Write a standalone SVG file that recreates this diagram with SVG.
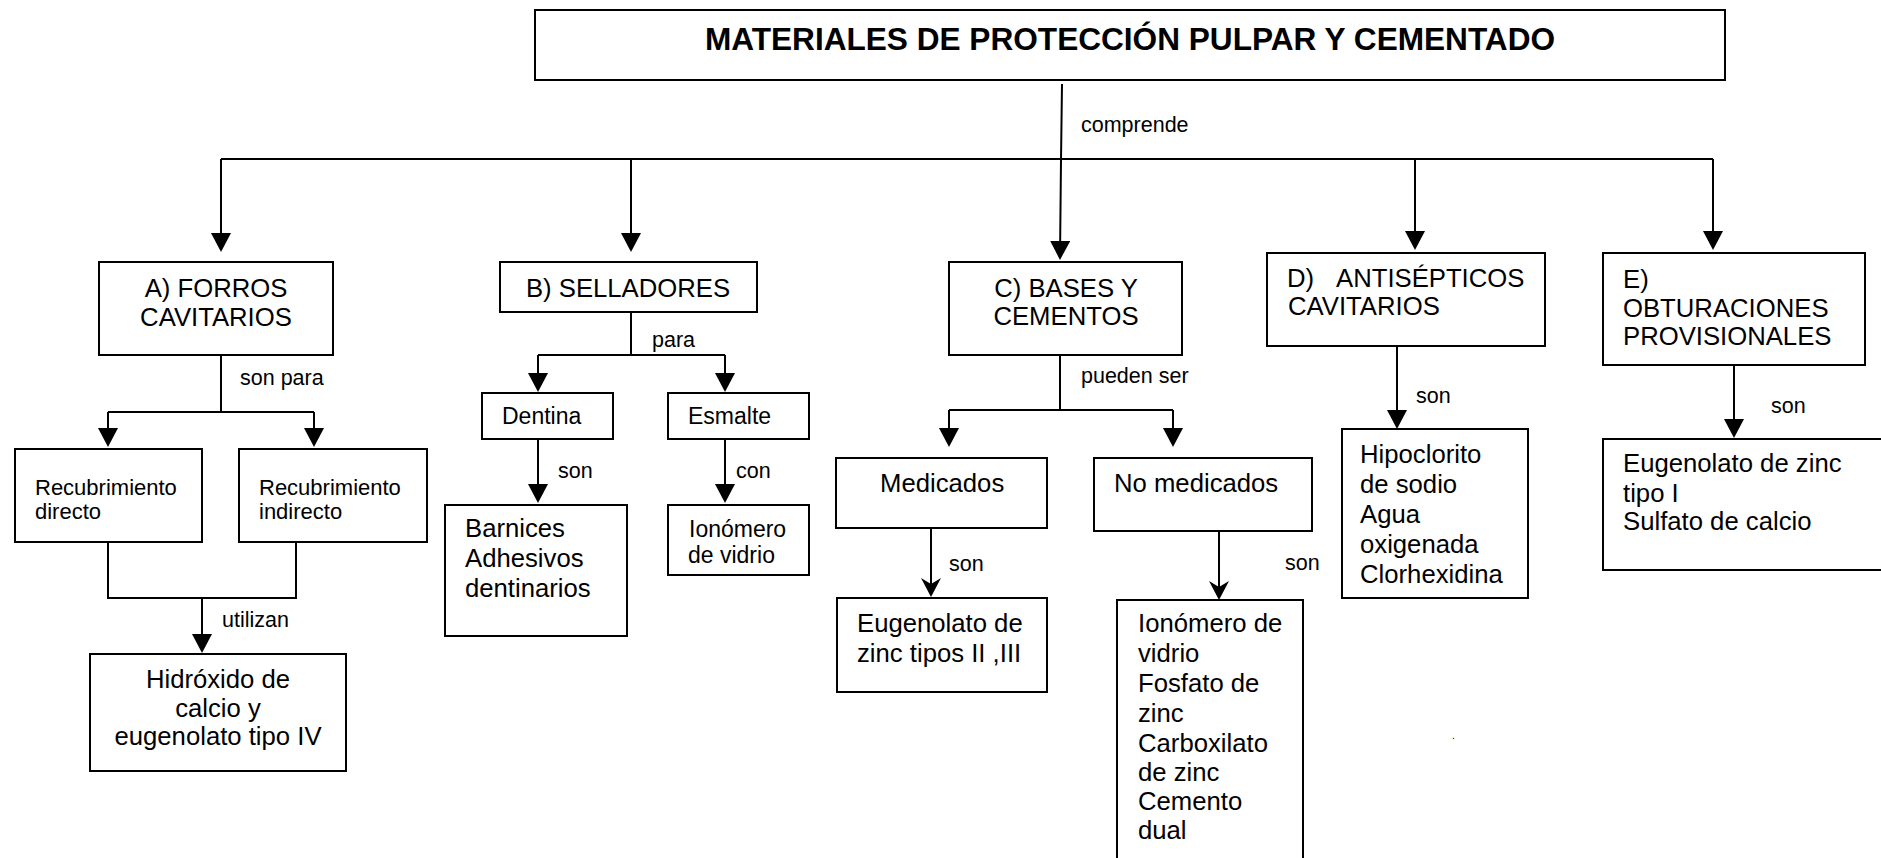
<svg xmlns="http://www.w3.org/2000/svg" width="1881" height="858" viewBox="0 0 1881 858">
<style>
.box{fill:#fff;stroke:#000;stroke-width:2}
.ln{fill:none;stroke:#000;stroke-width:2}
text{font-family:"Liberation Sans",Arial,sans-serif;fill:#000}
.t{font-size:25.7px}
.m{font-size:23px}
.r{font-size:22px}
.lb{font-size:21.5px}
.ti{font-size:31.6px;font-weight:bold}
.c{text-anchor:middle}
</style>
<defs>
<marker id="arr" viewBox="0 0 19 20" refX="17" refY="10" markerWidth="19" markerHeight="20" markerUnits="userSpaceOnUse" orient="auto">
<path d="M0,0 L19,10 L0,20 z" fill="#000"/>
</marker>
<marker id="arrS" viewBox="0 0 19 20" refX="17" refY="10" markerWidth="19" markerHeight="20" markerUnits="userSpaceOnUse" orient="auto">
<path d="M0,0 L19,10 L0,20 L6,10 z" fill="#000"/>
</marker>
</defs>
<rect width="1881" height="858" fill="#fff"/>
<g id="connectors">
<path class="ln" d="M1062,84 L1061,160 L1060,258" marker-end="url(#arr)"/>
<path class="ln" d="M221,159 H1713"/>
<path class="ln" d="M221,159 V250" marker-end="url(#arr)"/>
<path class="ln" d="M631,159 V250" marker-end="url(#arr)"/>
<path class="ln" d="M1415,159 V248" marker-end="url(#arr)"/>
<path class="ln" d="M1713,159 V248" marker-end="url(#arr)"/>
<path class="ln" d="M221,355 V412"/>
<path class="ln" d="M108,412 H314"/>
<path class="ln" d="M108,412 V445" marker-end="url(#arr)"/>
<path class="ln" d="M314,412 V445" marker-end="url(#arr)"/>
<path class="ln" d="M631,312 V355"/>
<path class="ln" d="M538,355 H725"/>
<path class="ln" d="M538,355 V390" marker-end="url(#arr)"/>
<path class="ln" d="M725,355 V390" marker-end="url(#arr)"/>
<path class="ln" d="M538,439 V501" marker-end="url(#arr)"/>
<path class="ln" d="M725,439 V501" marker-end="url(#arr)"/>
<path class="ln" d="M108,542 V598 H296 V542"/>
<path class="ln" d="M202,598 V651" marker-end="url(#arr)"/>
<path class="ln" d="M1060,355 V410"/>
<path class="ln" d="M949,410 H1173"/>
<path class="ln" d="M949,410 V445" marker-end="url(#arr)"/>
<path class="ln" d="M1173,410 V445" marker-end="url(#arr)"/>
<path class="ln" d="M931,528 V595" marker-end="url(#arrS)"/>
<path class="ln" d="M1219,531 V598" marker-end="url(#arrS)"/>
<path class="ln" d="M1397,346 V427" marker-end="url(#arr)"/>
<path class="ln" d="M1734,365 V436" marker-end="url(#arr)"/>
<text class="lb" x="1081" y="132">comprende</text>
<text class="lb" x="240" y="385">son para</text>
<text class="lb" x="652" y="347">para</text>
<text class="lb" x="1081" y="383">pueden ser</text>
<text class="lb" x="558" y="478">son</text>
<text class="lb" x="736" y="478">con</text>
<text class="lb" x="222" y="627">utilizan</text>
<text class="lb" x="949" y="571">son</text>
<text class="lb" x="1285" y="570">son</text>
<text class="lb" x="1416" y="403">son</text>
<text class="lb" x="1771" y="413">son</text>
</g>
<g id="title">
<rect class="box" x="535" y="10" width="1190" height="70"/>
<text class="ti c" x="1130" y="50">MATERIALES DE PROTECCIÓN PULPAR Y CEMENTADO</text>
</g>
<g id="forros">
<rect class="box" x="99" y="262" width="234" height="93"/>
<text class="t c" x="216" y="297">A) FORROS</text>
<text class="t c" x="216" y="326">CAVITARIOS</text>
</g>
<g id="selladores">
<rect class="box" x="500" y="262" width="257" height="50"/>
<text class="t c" x="628" y="297">B) SELLADORES</text>
</g>
<g id="bases">
<rect class="box" x="949" y="262" width="233" height="93"/>
<text class="t c" x="1066" y="297">C) BASES Y</text>
<text class="t c" x="1066" y="325">CEMENTOS</text>
</g>
<g id="antisepticos">
<rect class="box" x="1267" y="253" width="278" height="93"/>
<text class="t" x="1287" y="287">D)</text>
<text class="t" x="1336" y="287">ANTISÉPTICOS</text>
<text class="t" x="1288" y="315">CAVITARIOS</text>
</g>
<g id="obturaciones">
<rect class="box" x="1603" y="253" width="262" height="112"/>
<text class="t" x="1623" y="288">E)</text>
<text class="t" x="1623" y="317">OBTURACIONES</text>
<text class="t" x="1623" y="345">PROVISIONALES</text>
</g>
<g id="rec-directo">
<rect class="box" x="15" y="449" width="187" height="93"/>
<text class="r" x="35" y="495">Recubrimiento</text>
<text class="r" x="35" y="519">directo</text>
</g>
<g id="rec-indirecto">
<rect class="box" x="239" y="449" width="188" height="93"/>
<text class="r" x="259" y="495">Recubrimiento</text>
<text class="r" x="259" y="519">indirecto</text>
</g>
<g id="hidroxido">
<rect class="box" x="90" y="654" width="256" height="117"/>
<text class="t c" x="218" y="688">Hidróxido de</text>
<text class="t c" x="218" y="717">calcio y</text>
<text class="t c" x="218" y="745">eugenolato tipo IV</text>
</g>
<g id="dentina">
<rect class="box" x="482" y="393" width="131" height="46"/>
<text class="m" x="502" y="424">Dentina</text>
</g>
<g id="esmalte">
<rect class="box" x="668" y="393" width="141" height="46"/>
<text class="m" x="688" y="424">Esmalte</text>
</g>
<g id="barnices">
<rect class="box" x="445" y="505" width="182" height="131"/>
<text class="t" x="465" y="537">Barnices</text>
<text class="t" x="465" y="567">Adhesivos</text>
<text class="t" x="465" y="597">dentinarios</text>
</g>
<g id="ionomero-s">
<rect class="box" x="668" y="505" width="141" height="70"/>
<text class="m" x="689" y="537">Ionómero</text>
<text class="m" x="688" y="563">de vidrio</text>
</g>
<g id="medicados">
<rect class="box" x="836" y="458" width="211" height="70"/>
<text class="t" x="880" y="492">Medicados</text>
</g>
<g id="eugenolato-23">
<rect class="box" x="837" y="598" width="210" height="94"/>
<text class="t" x="857" y="632">Eugenolato de</text>
<text class="t" x="857" y="662">zinc tipos II ,III</text>
</g>
<g id="no-medicados">
<rect class="box" x="1094" y="458" width="218" height="73"/>
<text class="t" x="1114" y="492">No medicados</text>
</g>
<g id="ionomero-l">
<rect class="box" x="1117" y="600" width="186" height="270"/>
<text class="t" x="1138" y="632">Ionómero de</text>
<text class="t" x="1138" y="662">vidrio</text>
<text class="t" x="1138" y="692">Fosfato de</text>
<text class="t" x="1138" y="722">zinc</text>
<text class="t" x="1138" y="752">Carboxilato</text>
<text class="t" x="1138" y="781">de zinc</text>
<text class="t" x="1138" y="810">Cemento</text>
<text class="t" x="1138" y="839">dual</text>
</g>
<g id="hipoclorito">
<rect class="box" x="1342" y="429" width="186" height="169"/>
<text class="t" x="1360" y="463">Hipoclorito</text>
<text class="t" x="1360" y="493">de sodio</text>
<text class="t" x="1360" y="523">Agua</text>
<text class="t" x="1360" y="553">oxigenada</text>
<text class="t" x="1360" y="583">Clorhexidina</text>
</g>
<g id="eugenolato-1">
<rect class="box" x="1603" y="439" width="290" height="131"/>
<text class="t" x="1623" y="472">Eugenolato de zinc</text>
<text class="t" x="1623" y="502">tipo I</text>
<text class="t" x="1623" y="530">Sulfato de calcio</text>
</g>
<text x="1452" y="739" style="font-size:10px">.</text>
</svg>
